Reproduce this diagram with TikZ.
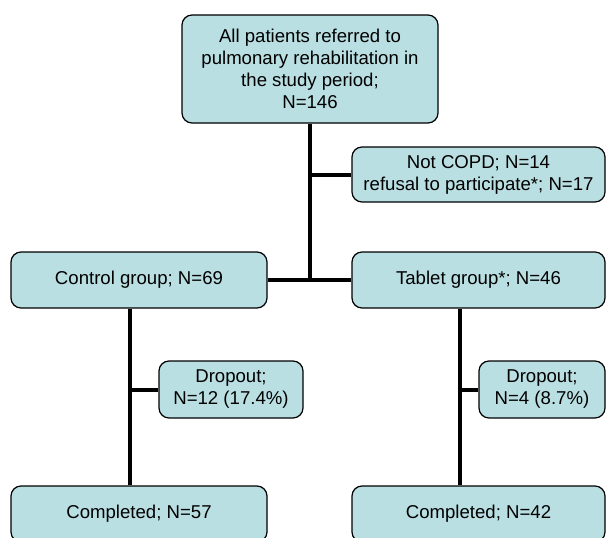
\documentclass[tikz,border=0pt]{standalone}
\usepackage{fontspec}
\setmainfont{Liberation Sans}
\definecolor{boxfill}{RGB}{185,223,226}
\begin{document}
\begin{tikzpicture}[x=1pt,y=-1pt,
  box/.style={draw=black, line width=1.2pt, fill=boxfill, rounded corners=10pt,
    align=center, inner sep=0pt, font=\fontsize{18.6}{22}\selectfont},
  link/.style={line width=4pt, black}]
\clip (0,0) rectangle (606,538);
\useasboundingbox (0,0) rectangle (606,538);
\node[box, minimum width=256pt, minimum height=108pt] (top) at (310,69)
  {All patients referred to\\pulmonary rehabilitation in\\the study period;\\N=146};
\node[box, minimum width=253pt, minimum height=55pt] (nc) at (478.5,174.5)
  {Not COPD; N=14\\refusal to participate*; N=17};
\node[box, minimum width=256pt, minimum height=56pt] (ctrl) at (139,280)
  {Control group; N=69};
\node[box, minimum width=253pt, minimum height=56pt] (tab) at (478.5,280)
  {Tablet group*; N=46};
\node[box, minimum width=144pt, minimum height=57pt] (dl) at (231,389.5)
  {Dropout;\\N=12 (17.4\%)};
\node[box, minimum width=126pt, minimum height=57pt] (dr) at (542,389.5)
  {Dropout;\\N=4 (8.7\%)};
\node[box, minimum width=256pt, minimum height=56pt] (cl) at (139,514)
  {Completed; N=57};
\node[box, minimum width=253pt, minimum height=56pt] (cr) at (478.5,514)
  {Completed; N=42};
\coordinate (ls) at ([xshift=-9pt]ctrl.south);
\coordinate (rs) at ([xshift=-18.5pt]tab.south);
\draw[link] (top.south) -- (top.south |- ctrl.east);
\draw[link] (top.south |- nc.west) -- (nc.west);
\draw[link] (ctrl.east) -- (tab.west);
\draw[link] (ls) -- (ls |- cl.north);
\draw[link] (ls |- dl.west) -- (dl.west);
\draw[link] (rs) -- (rs |- cr.north);
\draw[link] (rs |- dr.west) -- (dr.west);
\end{tikzpicture}
\end{document}
